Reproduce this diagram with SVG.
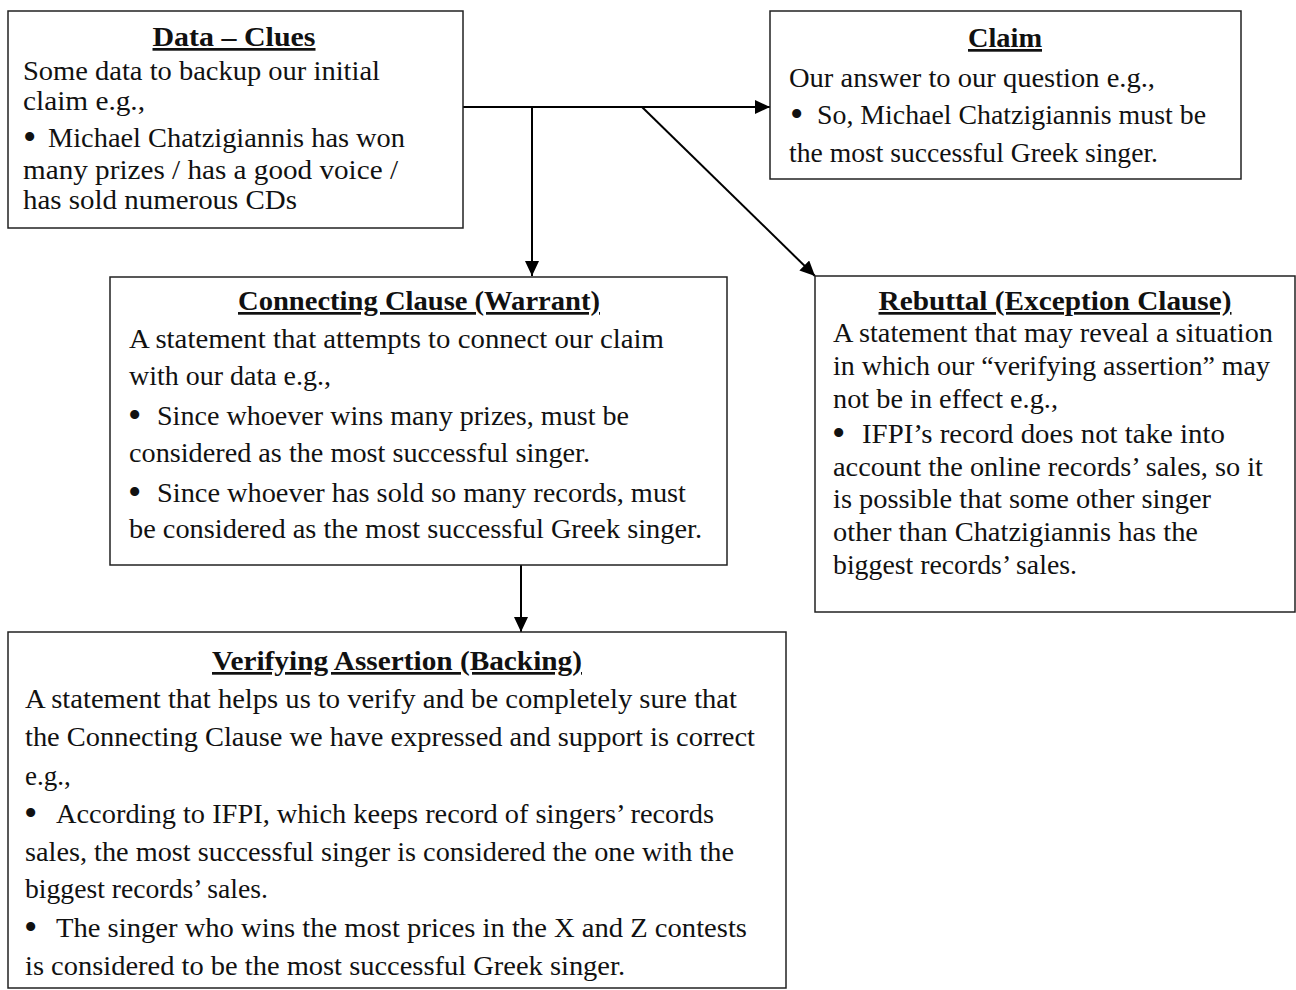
<svg xmlns="http://www.w3.org/2000/svg" width="1296" height="990" viewBox="0 0 1296 990">
<style>
.box{fill:#fff;stroke:#222;stroke-width:1.5}
.t{font-family:"Liberation Serif","Times New Roman",serif;font-size:27px;fill:#111}
.b{font-family:"Liberation Serif","Times New Roman",serif;font-size:38px;fill:#111}
.h{font-family:"Liberation Serif","Times New Roman",serif;font-size:27px;font-weight:bold;fill:#111;text-anchor:middle;text-decoration:underline}
.c{stroke:#000;stroke-width:2;fill:none}
</style>
<defs>
<marker id="ah" markerUnits="userSpaceOnUse" markerWidth="16" markerHeight="14" refX="15" refY="7" orient="auto">
<path d="M0,0 L15,7 L0,14 z" fill="#000"/>
</marker>
</defs>
<rect width="1296" height="990" fill="#fff"/>
<g id="connectors">
<line class="c" x1="463" y1="107" x2="770" y2="107" marker-end="url(#ah)"/>
<line class="c" x1="532" y1="107" x2="532" y2="276" marker-end="url(#ah)"/>
<line class="c" x1="642" y1="107" x2="815" y2="276" marker-end="url(#ah)"/>
<line class="c" x1="521" y1="565" x2="521" y2="632" marker-end="url(#ah)"/>
</g>
<g id="data">
<rect class="box" x="8" y="11" width="455" height="217"/>
<text class="h" x="234" y="46" textLength="163" lengthAdjust="spacingAndGlyphs">Data – Clues</text>
<text class="t" x="23" y="80" textLength="357" lengthAdjust="spacingAndGlyphs">Some data to backup our initial</text>
<text class="t" x="23" y="110" textLength="122" lengthAdjust="spacingAndGlyphs">claim e.g.,</text>
<text class="b" x="23" y="150">•</text>
<text class="t" x="48" y="147" textLength="357" lengthAdjust="spacingAndGlyphs">Michael Chatzigiannis has won</text>
<text class="t" x="23" y="179" textLength="375" lengthAdjust="spacingAndGlyphs">many prizes / has a good voice /</text>
<text class="t" x="23" y="209" textLength="274" lengthAdjust="spacingAndGlyphs">has sold numerous CDs</text>
</g>
<g id="claim">
<rect class="box" x="770" y="11" width="471" height="168"/>
<text class="h" x="1005" y="47" textLength="74" lengthAdjust="spacingAndGlyphs">Claim</text>
<text class="t" x="789" y="87" textLength="366" lengthAdjust="spacingAndGlyphs">Our answer to our question e.g.,</text>
<text class="b" x="790" y="127">•</text>
<text class="t" x="817" y="124" textLength="389" lengthAdjust="spacingAndGlyphs">So, Michael Chatzigiannis must be</text>
<text class="t" x="789" y="162" textLength="369" lengthAdjust="spacingAndGlyphs">the most successful Greek singer.</text>
</g>
<g id="warrant">
<rect class="box" x="110" y="277" width="617" height="288"/>
<text class="h" x="419" y="310" textLength="362" lengthAdjust="spacingAndGlyphs">Connecting Clause (Warrant)</text>
<text class="t" x="129" y="348" textLength="535" lengthAdjust="spacingAndGlyphs">A statement that attempts to connect our claim</text>
<text class="t" x="129" y="385" textLength="202" lengthAdjust="spacingAndGlyphs">with our data e.g.,</text>
<text class="b" x="128" y="428">•</text>
<text class="t" x="157" y="425" textLength="472" lengthAdjust="spacingAndGlyphs">Since whoever wins many prizes, must be</text>
<text class="t" x="129" y="462" textLength="461" lengthAdjust="spacingAndGlyphs">considered as the most successful singer.</text>
<text class="b" x="128" y="505">•</text>
<text class="t" x="157" y="502" textLength="529" lengthAdjust="spacingAndGlyphs">Since whoever has sold so many records, must</text>
<text class="t" x="129" y="538" textLength="573" lengthAdjust="spacingAndGlyphs">be considered as the most successful Greek singer.</text>
</g>
<g id="rebuttal">
<rect class="box" x="815" y="276" width="480" height="336"/>
<text class="h" x="1055" y="310" textLength="353" lengthAdjust="spacingAndGlyphs">Rebuttal (Exception Clause)</text>
<text class="t" x="833" y="342" textLength="440" lengthAdjust="spacingAndGlyphs">A statement that may reveal a situation</text>
<text class="t" x="833" y="375" textLength="437" lengthAdjust="spacingAndGlyphs">in which our “verifying assertion” may</text>
<text class="t" x="833" y="408" textLength="225" lengthAdjust="spacingAndGlyphs">not be in effect e.g.,</text>
<text class="b" x="832" y="446">•</text>
<text class="t" x="862" y="443" textLength="363" lengthAdjust="spacingAndGlyphs">IFPI’s record does not take into</text>
<text class="t" x="833" y="476" textLength="430" lengthAdjust="spacingAndGlyphs">account the online records’ sales, so it</text>
<text class="t" x="833" y="508" textLength="378" lengthAdjust="spacingAndGlyphs">is possible that some other singer</text>
<text class="t" x="833" y="541" textLength="365" lengthAdjust="spacingAndGlyphs">other than Chatzigiannis has the</text>
<text class="t" x="833" y="574" textLength="244" lengthAdjust="spacingAndGlyphs">biggest records’ sales.</text>
</g>
<g id="backing">
<rect class="box" x="8" y="632" width="778" height="356"/>
<text class="h" x="397" y="670" textLength="370" lengthAdjust="spacingAndGlyphs">Verifying Assertion (Backing)</text>
<text class="t" x="25" y="708" textLength="712" lengthAdjust="spacingAndGlyphs">A statement that helps us to verify and be completely sure that</text>
<text class="t" x="25" y="746" textLength="730" lengthAdjust="spacingAndGlyphs">the Connecting Clause we have expressed and support is correct</text>
<text class="t" x="25" y="785">e.g.,</text>
<text class="b" x="24" y="826">•</text>
<text class="t" x="56" y="823" textLength="658" lengthAdjust="spacingAndGlyphs">According to IFPI, which keeps record of singers’ records</text>
<text class="t" x="25" y="861" textLength="709" lengthAdjust="spacingAndGlyphs">sales, the most successful singer is considered the one with the</text>
<text class="t" x="25" y="898" textLength="243" lengthAdjust="spacingAndGlyphs">biggest records’ sales.</text>
<text class="b" x="24" y="940">•</text>
<text class="t" x="56" y="937" textLength="691" lengthAdjust="spacingAndGlyphs">The singer who wins the most prices in the X and Z contests</text>
<text class="t" x="25" y="975" textLength="600" lengthAdjust="spacingAndGlyphs">is considered to be the most successful Greek singer.</text>
</g>
</svg>
